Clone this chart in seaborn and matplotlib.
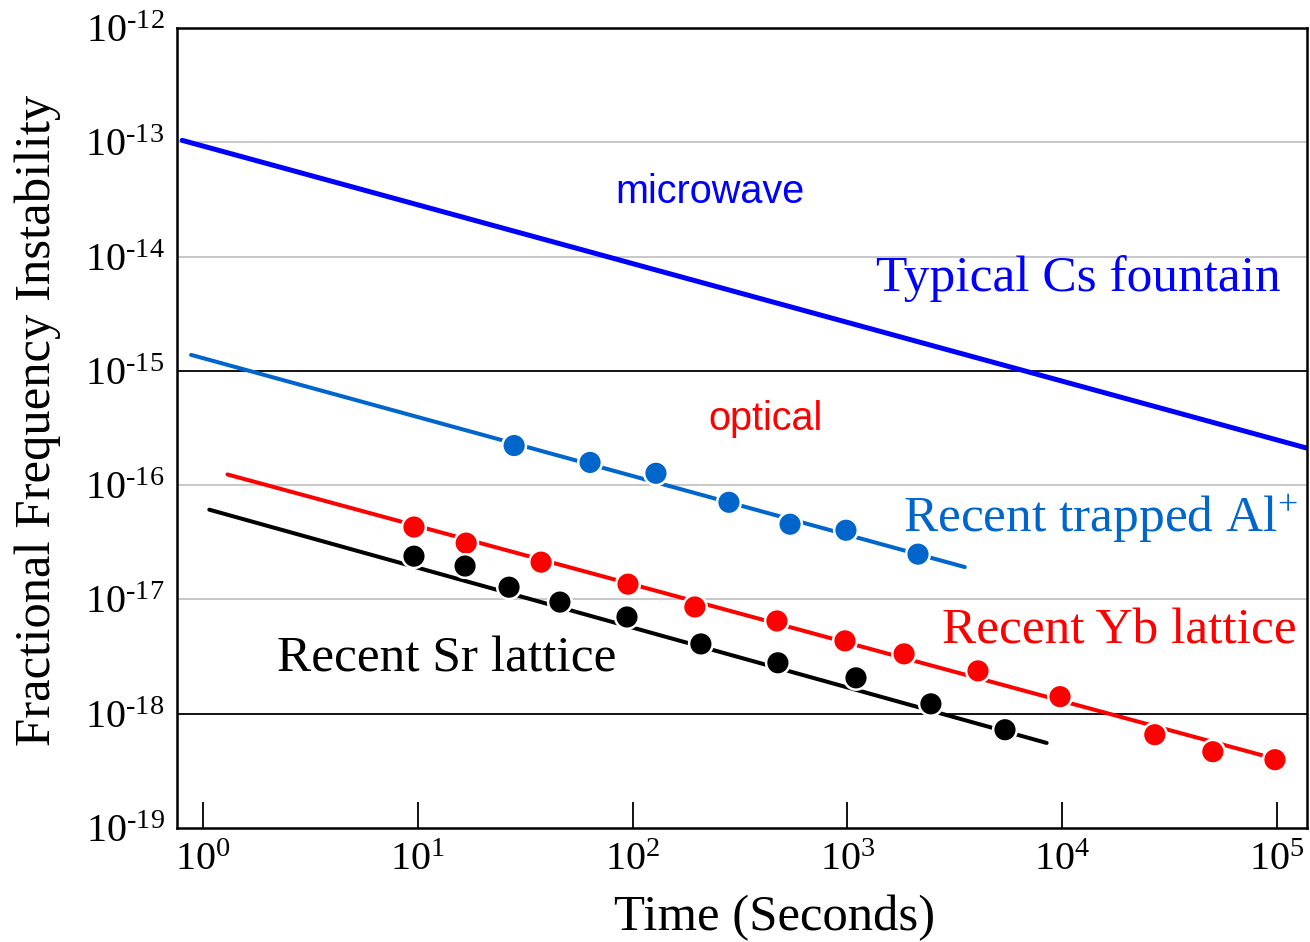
import numpy as np
import pandas as pd
import matplotlib
matplotlib.use("Agg")
import matplotlib.pyplot as plt
import seaborn as sns
from matplotlib.ticker import FixedLocator, NullLocator, FuncFormatter
from matplotlib.mathtext import MathTextParser

# ---------------- data ----------------
cs_fit_tau = [0.80, 1.39e5]
cs_fit_sigma = [1.04e-13, 2.1e-16]

al_fit_tau = [0.88, 3520]
al_fit_sigma = [1.38e-15, 1.92e-17]
yb_fit_tau = [1.30, 1.09e5]
yb_fit_sigma = [1.24e-16, 3.82e-19]
sr_fit_tau = [1.07, 8470]
sr_fit_sigma = [6.1e-17, 5.55e-19]

al_tau = [28.1, 63.4, 128.5, 281, 541, 985, 2132]
al_sigma = [2.22e-16, 1.58e-16, 1.27e-16, 7.08e-17, 4.55e-17, 4.03e-17, 2.49e-17]

yb_tau = [9.6, 16.8, 37.5, 95.2, 195, 470, 975, 1837, 4058, 9775, 27000, 50300, 97900]
yb_sigma = [4.30e-17, 3.11e-17, 2.12e-17, 1.36e-17, 8.59e-18, 6.48e-18, 4.34e-18,
            3.34e-18, 2.37e-18, 1.41e-18, 6.55e-19, 4.65e-19, 3.96e-19]

sr_tau = [9.6, 16.6, 26.6, 45.9, 94.2, 208, 475, 1097, 2449, 5418]
sr_sigma = [2.39e-17, 1.96e-17, 1.28e-17, 9.48e-18, 7.02e-18, 4.08e-18, 2.79e-18,
            2.06e-18, 1.22e-18, 7.24e-19]

x_ticks = [1e0, 1e1, 1e2, 1e3, 1e4, 1e5]
y_ticks = [1e-19, 1e-18, 1e-17, 1e-16, 1e-15, 1e-14, 1e-13, 1e-12]
gray_grid = [1e-13, 1e-14, 1e-16, 1e-17]
black_grid = [1e-15, 1e-18]

# ---------------- style ----------------
sns.set_theme(style="white")
plt.rcParams["font.family"] = ["Liberation Serif", "DejaVu Serif"]
plt.rcParams["mathtext.fontset"] = "custom"
plt.rcParams["mathtext.rm"] = "Liberation Serif"
plt.rcParams["mathtext.it"] = "Liberation Serif:italic"
plt.rcParams["mathtext.bf"] = "Liberation Serif:bold"
plt.rcParams["text.color"] = "black"
plt.rcParams["xtick.color"] = "black"
plt.rcParams["ytick.color"] = "black"
plt.rcParams["axes.labelcolor"] = "black"

C_CS = "#0000ff"
C_AL = "#0066cc"
C_YB = "#ff0000"
C_SR = "#000000"

fig = plt.figure(figsize=(13.1, 9.42), dpi=100)
ax = fig.add_axes([177 / 1310, 1 - 828 / 942, (1307 - 177) / 1310, (828 - 28) / 942])

# grid lines
for g in gray_grid:
    ax.axhline(g, color="#c8c8c8", lw=1.4, zorder=0)
for g in black_grid:
    ax.axhline(g, color="black", lw=1.3, zorder=0)

fits = pd.concat([
    pd.DataFrame({"tau": cs_fit_tau, "sigma": cs_fit_sigma, "clock": "Cs"}),
    pd.DataFrame({"tau": al_fit_tau, "sigma": al_fit_sigma, "clock": "Al"}),
    pd.DataFrame({"tau": yb_fit_tau, "sigma": yb_fit_sigma, "clock": "Yb"}),
    pd.DataFrame({"tau": sr_fit_tau, "sigma": sr_fit_sigma, "clock": "Sr"}),
], ignore_index=True)

pts = pd.concat([
    pd.DataFrame({"tau": al_tau, "sigma": al_sigma, "clock": "Al"}),
    pd.DataFrame({"tau": yb_tau, "sigma": yb_sigma, "clock": "Yb"}),
    pd.DataFrame({"tau": sr_tau, "sigma": sr_sigma, "clock": "Sr"}),
], ignore_index=True)

palette = {"Cs": C_CS, "Al": C_AL, "Yb": C_YB, "Sr": C_SR}

sns.lineplot(data=fits[fits.clock == "Cs"], x="tau", y="sigma", color=C_CS,
             lw=3.6, ax=ax, legend=False, estimator=None, sort=False, zorder=2)
sns.lineplot(data=fits[fits.clock != "Cs"], x="tau", y="sigma", hue="clock",
             palette=palette, lw=2.9, ax=ax, legend=False, estimator=None,
             sort=False, zorder=2)
sns.scatterplot(data=pts, x="tau", y="sigma", hue="clock", palette=palette,
                s=290, edgecolor="white", linewidth=1.8, ax=ax, legend=False,
                zorder=3)

ax.set_xscale("log")
ax.set_yscale("log")
ax.set_xlim(10 ** -0.121, 10 ** 5.14)
ax.set_ylim(1e-19, 1e-12)

# exponent written with a hyphen, as in the reference, if \text is supported
try:
    MathTextParser("agg").parse(r"$\mathdefault{10^{\text{-}12}}$", 72)
    USE_HYPHEN = True
except Exception:
    USE_HYPHEN = False


def fmt(v, pos):
    e = int(round(np.log10(v)))
    if e < 0 and USE_HYPHEN:
        return r"$\mathdefault{10^{\text{-}%d}}$" % (-e)
    return r"$\mathdefault{10^{%d}}$" % e


ax.xaxis.set_major_locator(FixedLocator(x_ticks))
ax.yaxis.set_major_locator(FixedLocator(y_ticks))
ax.xaxis.set_minor_locator(NullLocator())
ax.yaxis.set_minor_locator(NullLocator())
ax.xaxis.set_major_formatter(FuncFormatter(fmt))
ax.yaxis.set_major_formatter(FuncFormatter(fmt))
ax.tick_params(axis="x", direction="in", length=19, width=1.3, color="black",
               labelcolor="black", labelsize=29, pad=10, bottom=True, top=False)
ax.tick_params(axis="y", length=0, labelsize=29, labelcolor="black", pad=9,
               left=True)

for sp in ax.spines.values():
    sp.set_color("black")
    sp.set_linewidth(1.8)

ax.set_xlabel("Time (Seconds)", fontsize=36.5, color="black")
ax.set_ylabel("Fractional Frequency Instability", fontsize=36.5, color="black")
ax.xaxis.set_label_coords(0.529, -0.083)
ax.yaxis.set_label_coords(-0.103, 0.51)


def px(x, y):
    return ((x - 177) / 1130, (828 - y) / 800)


ann = [
    ("microwave", 615, 203, C_CS, "Liberation Sans", 28.5),
    ("optical", 708, 430, C_YB, "Liberation Sans", 28.5),
    ("Typical Cs fountain", 876, 291, C_CS, "Liberation Serif", 37),
    ("Recent trapped Al$^{\\mathregular{+}}$", 903, 532, C_AL, "Liberation Serif", 37),
    ("Recent Yb lattice", 942, 643, C_YB, "Liberation Serif", 37),
    ("Recent Sr lattice", 277, 672, C_SR, "Liberation Serif", 37),
]
for t, x, y, c, fam, fs in ann:
    ax.text(*px(x, y), t, transform=ax.transAxes, color=c, fontsize=fs,
            family=fam, ha="left", va="baseline")

fig.savefig("out.png", dpi=100)
